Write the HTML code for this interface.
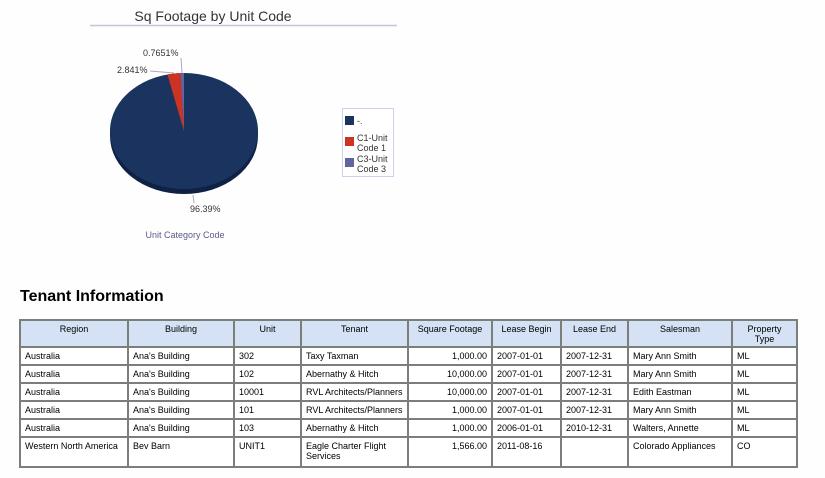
<!DOCTYPE html>
<html><head><style>
body{margin:0;width:825px;height:478px;background:#fdfefd;font-family:"Liberation Sans",sans-serif;position:relative;overflow:hidden}
svg{position:absolute;left:0;top:0}
h2{position:absolute;left:20px;top:288px;margin:0;font-size:16px;font-weight:bold;color:#000}
table{position:absolute;left:19px;top:319px;border-collapse:collapse;table-layout:fixed;font-size:9px;color:#000}
td,th{border:2px solid #7a7f7a;padding:2px 4px;vertical-align:top;line-height:10px;overflow:hidden;box-sizing:border-box}
th{background:#d5e2f5;font-weight:normal;text-align:center;height:26px;padding-top:3px}
td{height:18px;background:#fff;padding-top:3px}
td.r{text-align:right}
</style></head><body>
<svg width="825" height="478">
<text x="213" y="21" font-size="14" fill="#333" text-anchor="middle" font-family="Liberation Sans">Sq Footage by Unit Code</text>
<line x1="90" y1="25.5" x2="397" y2="25.5" stroke="#c4c4dc" stroke-width="1.5"/>
<ellipse cx="184" cy="136" rx="74" ry="58" fill="#0f2245"/>
<rect x="110" y="131" width="148" height="5" fill="#0f2245"/>
<ellipse cx="184" cy="131" rx="74" ry="58" fill="#1b335f"/>
<path d="M184,131 L180.4,73.1 A74,58 0 0 1 184,73 Z" fill="#6264a0"/>
<path d="M184,131 L167.4,74.5 A74,58 0 0 1 180.4,73.1 Z" fill="#cc3322"/>
<line x1="150" y1="71" x2="174" y2="73" stroke="#aab" stroke-width="1"/>
<line x1="181" y1="58" x2="182" y2="73" stroke="#aab" stroke-width="1"/>
<line x1="193" y1="195" x2="194" y2="203" stroke="#aab" stroke-width="1"/>
<g font-size="9" fill="#333" font-family="Liberation Sans">
<text x="143" y="56">0.7651%</text>
<text x="117" y="73">2.841%</text>
<text x="190" y="212">96.39%</text>
</g>
<text x="185" y="238" font-size="9" fill="#5a5a8a" text-anchor="middle" font-family="Liberation Sans">Unit Category Code</text>
<rect x="342.5" y="108.5" width="51" height="68" fill="#fff" stroke="#d0d0e8"/>
<rect x="345" y="116" width="9" height="9" fill="#1b335f"/>
<rect x="345" y="137" width="9" height="9" fill="#cc3322"/>
<rect x="345" y="158" width="9" height="9" fill="#6264a0"/>
<g font-size="9" fill="#333" font-family="Liberation Sans">
<text x="357" y="124">-.</text>
<text x="357" y="141">C1-Unit</text><text x="357" y="151">Code 1</text>
<text x="357" y="162">C3-Unit</text><text x="357" y="172">Code 3</text>
</g>
</svg>
<h2>Tenant Information</h2>
<table>
<colgroup><col style="width:108px"><col style="width:106px"><col style="width:67px"><col style="width:107px"><col style="width:84px"><col style="width:69px"><col style="width:67px"><col style="width:104px"><col style="width:65px"></colgroup>
<tr><th>Region</th><th>Building</th><th>Unit</th><th>Tenant</th><th>Square Footage</th><th>Lease Begin</th><th>Lease End</th><th>Salesman</th><th>Property Type</th></tr>
<tr><td>Australia</td><td>Ana's Building</td><td>302</td><td>Taxy Taxman</td><td class="r">1,000.00</td><td>2007-01-01</td><td>2007-12-31</td><td>Mary Ann Smith</td><td>ML</td></tr>
<tr><td>Australia</td><td>Ana's Building</td><td>102</td><td>Abernathy &amp; Hitch</td><td class="r">10,000.00</td><td>2007-01-01</td><td>2007-12-31</td><td>Mary Ann Smith</td><td>ML</td></tr>
<tr><td>Australia</td><td>Ana's Building</td><td>10001</td><td>RVL Architects/Planners</td><td class="r">10,000.00</td><td>2007-01-01</td><td>2007-12-31</td><td>Edith Eastman</td><td>ML</td></tr>
<tr><td>Australia</td><td>Ana's Building</td><td>101</td><td>RVL Architects/Planners</td><td class="r">1,000.00</td><td>2007-01-01</td><td>2007-12-31</td><td>Mary Ann Smith</td><td>ML</td></tr>
<tr><td>Australia</td><td>Ana's Building</td><td>103</td><td>Abernathy &amp; Hitch</td><td class="r">1,000.00</td><td>2006-01-01</td><td>2010-12-31</td><td>Walters, Annette</td><td>ML</td></tr>
<tr><td style="height:30px">Western North America</td><td>Bev Barn</td><td>UNIT1</td><td>Eagle Charter Flight Services</td><td class="r">1,566.00</td><td>2011-08-16</td><td></td><td>Colorado Appliances</td><td>CO</td></tr>
</table>
</body></html>
